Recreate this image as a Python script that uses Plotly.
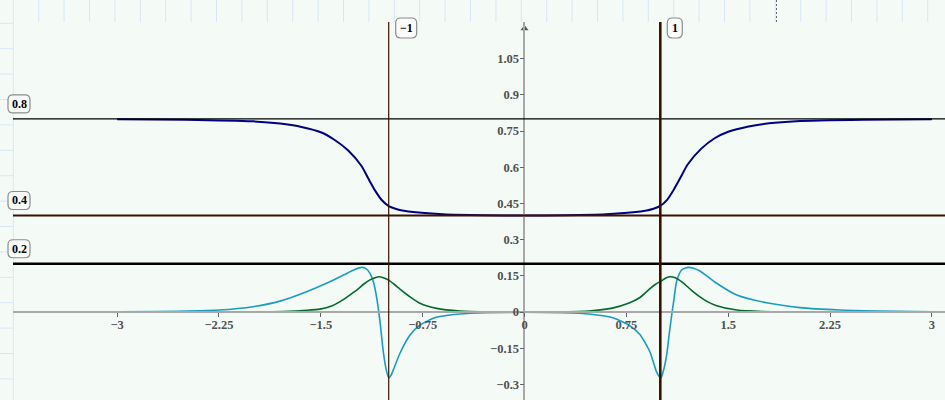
import plotly.graph_objects as go

# ---------------- data ----------------
navy_x = [-3.0, -2.5, -2.0, -1.8, -1.65, -1.5, -1.4, -1.3, -1.2, -1.15, -1.1, -1.05, -1.0,
          -0.95, -0.9, -0.8, -0.6, -0.3, 0.0,
          0.3, 0.6, 0.8, 0.9, 0.95, 1.0, 1.05, 1.1, 1.15, 1.2, 1.3, 1.4, 1.5, 1.65, 1.8,
          2.0, 2.5, 3.0]
navy_y = [0.799, 0.797, 0.790, 0.781, 0.768, 0.745, 0.714, 0.670, 0.605, 0.553, 0.503, 0.463, 0.439,
          0.428, 0.421, 0.413, 0.405, 0.401, 0.400,
          0.401, 0.405, 0.413, 0.421, 0.428, 0.440, 0.465, 0.508, 0.558, 0.610, 0.676, 0.720, 0.747, 0.769, 0.782,
          0.791, 0.797, 0.799]

blue_x = [-3.0, -2.7, -2.4, -2.25, -2.0, -1.8, -1.6, -1.45, -1.33, -1.25, -1.2, -1.17, -1.14,
          -1.11, -1.088, -1.064, -1.04, -1.015, -1.0, -0.985, -0.966, -0.917, -0.843, -0.77,
          -0.65, -0.475, -0.28, 0.0,
          0.28, 0.475, 0.65, 0.77, 0.85, 0.924, 0.97, 0.99, 1.005, 1.02, 1.047, 1.065, 1.084,
          1.1, 1.12, 1.157, 1.206, 1.25, 1.292, 1.415, 1.563, 1.783, 2.029, 2.32, 2.6, 3.0]
blue_y = [0.001, 0.002, 0.005, 0.008, 0.022, 0.045, 0.085, 0.121, 0.154, 0.176, 0.185, 0.181, 0.162,
          0.120, 0.057, -0.040, -0.164, -0.247, -0.272, -0.264, -0.240, -0.171, -0.095, -0.054,
          -0.022, -0.008, -0.003, -0.001,
          -0.003, -0.008, -0.024, -0.055, -0.093, -0.166, -0.245, -0.266, -0.272, -0.250, -0.178, -0.095, -0.012,
          0.050, 0.126, 0.174, 0.185, 0.180, 0.170, 0.119, 0.070, 0.038, 0.018, 0.008, 0.004, 0.001]

green_x = [-3.0, -2.0, -1.776, -1.6, -1.506, -1.42, -1.358, -1.3, -1.236, -1.18, -1.138, -1.1,
           -1.071, -1.04, -1.003, -0.96, -0.917, -0.843, -0.77, -0.647, -0.475, -0.25, 0.0,
           0.25, 0.475, 0.647, 0.77, 0.85, 0.924, 0.96, 1.005, 1.04, 1.077, 1.11, 1.17, 1.23,
           1.292, 1.35, 1.415, 1.563, 1.75, 2.0, 3.0]
green_y = [0.0, 0.0005, 0.002, 0.007, 0.012, 0.025, 0.043, 0.065, 0.091, 0.117, 0.133, 0.142,
           0.146, 0.142, 0.133, 0.115, 0.095, 0.063, 0.036, 0.015, 0.004, 0.0005, 0.0,
           0.0005, 0.004, 0.016, 0.037, 0.060, 0.097, 0.113, 0.128, 0.141, 0.146, 0.142, 0.120, 0.090,
           0.063, 0.042, 0.026, 0.008, 0.002, 0.0005, 0.0]

hline_vals = [0.8, 0.4, 0.2]
hline_labels = ["0.8", "0.4", "0.2"]
vline_vals = [-1, 1]
vline_labels = ["\u22121", "1"]

x_tickvals = [-3, -2.25, -1.5, -0.75, 0, 0.75, 1.5, 2.25, 3]
x_ticktext = ["\u22123", "\u22122.25", "\u22121.5", "\u22120.75", "0", "0.75", "1.5", "2.25", "3"]
y_tickvals = [-0.3, -0.15, 0, 0.15, 0.3, 0.45, 0.6, 0.75, 0.9, 1.05]
y_ticktext = ["\u22120.3", "\u22120.15", "0", "0.15", "0.3", "0.45", "0.6", "0.75", "0.9", "1.05"]

# ---------------- layout constants ----------------
W, H = 945, 400
ML, MT = 13, 22
PW, PH = W - ML, H - MT
X_RANGE = [-3.7666, 3.0965]
Y_RANGE = [-0.3647, 1.2018]
PX_PER_X = PW / (X_RANGE[1] - X_RANGE[0])
PX_PER_Y = PH / (Y_RANGE[1] - Y_RANGE[0])

BG = "#f4fbf6"
GRID = "#d6e7f7"
BROWN = "#3a1200"
NAVY = "#000080"
TEAL = "#1a9cc2"
GREEN = "#046a2c"
AXIS = "#a8a8a8"
TICKFONT = dict(family="Liberation Serif", size=12.5, color="#505050", weight="bold")
LABELFONT = dict(family="Liberation Serif", size=12, color="#000000", weight="bold")

def px2paper_x(px):
    return (px - ML) / PW

def py2paper_y(py):
    return 1 - (py - MT) / PH

def rounded_path(cx, w, h, r=5):
    l, rr = cx - w / 2, cx + w / 2
    t, b = -h / 2, h / 2
    return (f"M {l + r},{t} L {rr - r},{t} Q {rr},{t} {rr},{t + r} L {rr},{b - r} "
            f"Q {rr},{b} {rr - r},{b} L {l + r},{b} Q {l},{b} {l},{b - r} "
            f"L {l},{t + r} Q {l},{t} {l + r},{t} Z")

fig = go.Figure()

fig.add_trace(go.Scatter(x=navy_x, y=navy_y, mode="lines",
                         line=dict(color=NAVY, width=2, shape="spline", smoothing=0.6)))
fig.add_trace(go.Scatter(x=blue_x, y=blue_y, mode="lines",
                         line=dict(color=TEAL, width=1.6, shape="spline", smoothing=0.6)))
fig.add_trace(go.Scatter(x=green_x, y=green_y, mode="lines",
                         line=dict(color=GREEN, width=1.6, shape="spline", smoothing=0.6)))

# y axis arrow head
fig.add_trace(go.Scatter(x=[0], y=[(312 - 28.5) / 241.3], mode="markers", cliponaxis=False,
                         marker=dict(symbol="triangle-up", size=7, color="#555555")))

shapes = []
top_y1 = 1 + MT / PH
k = 1
while 13.3 + 25.4 * k < W:
    X = px2paper_x(13.3 + 25.4 * k)
    shapes.append(dict(type="line", xref="paper", yref="paper", x0=X, x1=X, y0=1, y1=top_y1,
                       line=dict(color=GRID, width=1), layer="below"))
    k += 1
shapes.append(dict(type="line", xref="paper", yref="paper", x0=0.0004, x1=0.0004, y0=0, y1=top_y1,
                   line=dict(color=GRID, width=1), layer="below"))
k = 0
while 23.3 + 25.4 * k < H:
    Y = py2paper_y(23.3 + 25.4 * k)
    shapes.append(dict(type="line", xref="paper", yref="paper", x0=-ML / PW, x1=0, y0=Y, y1=Y,
                       line=dict(color=GRID, width=1), layer="below"))
    k += 1
Xd = px2paper_x(776.5)
shapes.append(dict(type="line", xref="paper", yref="paper", x0=Xd, x1=Xd, y0=1, y1=top_y1,
                   line=dict(color="#606a78", width=1, dash="2px,2px"), layer="below"))

h_widths = [1.2, 2, 2.6]
h_colors = ["#000000", BROWN, "#000000"]
for v, w, c in zip(hline_vals, h_widths, h_colors):
    shapes.append(dict(type="line", xref="paper", yref="y", x0=0, x1=1, y0=v, y1=v,
                       line=dict(color=c, width=w)))
v_widths = [1.2, 2.6]
for v, w in zip(vline_vals, v_widths):
    shapes.append(dict(type="line", xref="x", yref="paper", x0=v, x1=v, y0=0, y1=1,
                       line=dict(color=BROWN, width=w)))

annotations = []
HB_W, HB_H = 22, 18
hx = px2paper_x(19)
for v, t in zip(hline_vals, hline_labels):
    ya = v + 15 / PX_PER_Y
    shapes.append(dict(type="path", xref="paper", yref="y", xsizemode="pixel", ysizemode="pixel",
                       xanchor=hx, yanchor=ya, path=rounded_path(0, HB_W, HB_H),
                       line=dict(color="#8c8c8c", width=1.2), fillcolor="#fbfbfb"))
    annotations.append(dict(x=hx, y=ya, xref="paper", yref="y", text=t, showarrow=False,
                            font=LABELFONT, xanchor="center", yanchor="middle"))
vy = py2paper_y(28)
v_box_w = [21, 15]
for v, t, bw in zip(vline_vals, vline_labels, v_box_w):
    cx = 7 + bw / 2
    shapes.append(dict(type="path", xref="x", yref="paper", xsizemode="pixel", ysizemode="pixel",
                       xanchor=v, yanchor=vy, path=rounded_path(cx, bw, 20),
                       line=dict(color="#8c8c8c", width=1.2), fillcolor="#fbfbfb"))
    annotations.append(dict(x=v, y=vy, xref="x", yref="paper", text=t, showarrow=False,
                            xshift=cx, font=LABELFONT, xanchor="center", yanchor="middle"))

x_pos = (0 - Y_RANGE[0]) / (Y_RANGE[1] - Y_RANGE[0])
y_pos = (0 - X_RANGE[0]) / (X_RANGE[1] - X_RANGE[0])

fig.update_layout(
    width=W, height=H,
    margin=dict(l=ML, r=0, t=MT, b=0, pad=0),
    paper_bgcolor=BG, plot_bgcolor=BG,
    showlegend=False, hovermode=False,
    shapes=shapes, annotations=annotations,
    xaxis=dict(range=X_RANGE, anchor="free", position=x_pos, showgrid=False, zeroline=False,
               showline=True, linecolor=AXIS, linewidth=1.8,
               tickmode="array", tickvals=x_tickvals, ticktext=x_ticktext,
               ticks="outside", ticklen=4, tickwidth=1, tickcolor="#666666",
               ticklabelstandoff=-3,
               tickfont=TICKFONT, automargin=False, fixedrange=True),
    yaxis=dict(range=Y_RANGE, anchor="free", position=y_pos, showgrid=False, zeroline=False,
               showline=True, linecolor=AXIS, linewidth=1.8,
               tickmode="array", tickvals=y_tickvals, ticktext=y_ticktext,
               ticks="outside", ticklen=4, tickwidth=1, tickcolor="#666666",
               ticklabelstandoff=-2,
               tickfont=TICKFONT, automargin=False, fixedrange=True),
)

fig.write_html("out.html", config={"displayModeBar": False},
               post_script="document.body.style.margin='0px';document.body.style.overflow='hidden';")
